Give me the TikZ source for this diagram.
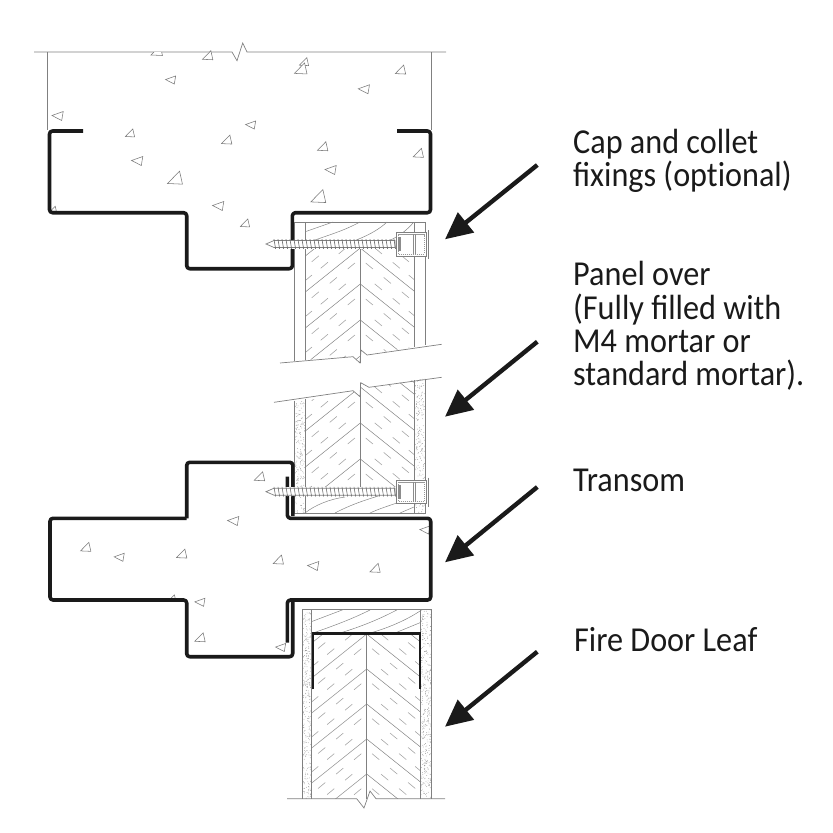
\documentclass[tikz,border=0pt]{standalone}
\usepackage{fontspec}
\setmainfont[FakeStretch=0.92]{Carlito}
\usetikzlibrary{arrows.meta}
\definecolor{ink}{HTML}{1A1A1A}
\tikzset{
  x=1pt,y=-1pt,
  thin line/.style={draw=black!50,line width=.7pt},
  grain/.style={draw=black!48,line width=.5pt},
  dashmark/.style={draw=black!35,line width=.6pt},
  steel/.style={draw=ink,line width=3.6pt,rounded corners=3pt,line join=round},
  steel flat/.style={draw=ink,line width=2.6pt,line join=miter},
  callout/.style={draw=ink,line width=4.4pt,-{Triangle[length=27pt,width=25pt]}},
  agg/.style={draw=black!52,line width=.55pt,fill=white},
  label/.style={anchor=base west,inner sep=0pt,font=\fontsize{35}{33.3}\selectfont,text=ink,align=left},
  speck/.style={fill=black!45},
}
% chevron core: xc, half width, first y at centre, spacing, last index
\newcommand{\chevron}[5]{%
  \foreach \dirn in {-1,1}{%
    \foreach \k in {-3,...,#5}{%
      \pgfmathsetmacro{\ya}{#3+\k*#4}
      \draw[grain] (#1,\ya) -- ({#1+\dirn*#2},{\ya+.8*#2});
      \foreach \dd/\off in {9/.3,27/.3,45/.3,18/.68,36/.68,52/.68}{%
        \pgfmathsetmacro{\yb}{\ya+\off*#4+.8*\dd}
        \draw[dashmark] ({#1+\dirn*(\dd-3.6)},{\yb-3}) -- ({#1+\dirn*(\dd+3.6)},{\yb+3});
      }
    }
  }
}
% stipple strip
\newcommand{\stipple}[5]{%
  \foreach \i in {1,...,#5}{%
    \pgfmathsetmacro{\px}{#1+rnd*(#2-#1)}
    \pgfmathsetmacro{\py}{#3+rnd*(#4-#3)}
    \fill[speck] (\px,\py) circle (.38);
  }
}
\newcommand{\aggA}[3]{\draw[agg] ({#1-1.15*#3},{#2-.1*#3}) -- ({#1+1.1*#3},{#2-.9*#3}) -- ({#1+.8*#3},{#2+.9*#3}) -- cycle;}
\newcommand{\aggB}[3]{\draw[agg] ({#1-1.15*#3},{#2+.8*#3}) -- ({#1+1.15*#3},{#2+.9*#3}) -- ({#1+.7*#3},{#2-1.1*#3}) -- cycle;}
% screw + cap and collet
\newcommand{\fixing}[1]{%
  \fill[white] (272,{#1-4.5}) rectangle (396,{#1+4.5});
  \draw[thin line,fill=white] (266,#1) -- (274,{#1-3.5}) -- (395,{#1-3.5}) -- (395,{#1+3.5}) -- (274,{#1+3.5}) -- cycle;
  \foreach \tx in {274,278,...,394}{%
    \draw[draw=black!58,line width=.6pt] (\tx,{#1-4.8}) -- ({\tx+1.6},{#1+4.8});
  }
  \draw[thin line,fill=white] (396,{#1-11.7}) rectangle (426,{#1+12});
  \draw[draw=black!40,line width=.6pt,dash pattern=on 1.2pt off .8pt] (398,{#1-9.5}) rectangle (424,{#1+9.8});
  \draw[draw=black!45,line width=.6pt] (413,{#1-10}) -- (413,{#1+10}) (415,{#1-10}) -- (415,{#1+10});
  \draw[thin line] (428,{#1-14}) -- (428,{#1+15});
  \fill[black!45] (398,{#1-7}) rectangle (400.5,{#1+7});
}
\begin{document}
\begin{tikzpicture}
\useasboundingbox (0,0) rectangle (833,833);
\pgfmathsetseed{11}
% ---------- upper panel
\begin{scope}
  \clip (305.3,222) -- (414.3,222) -- (414.3,346.5) -- (367,355) -- (361,350) -- (360,363) -- (353,356.7) -- (305.3,360) -- cycle;
  \begin{scope}
    \clip (300,248) rectangle (420,370);
    \chevron{360.3}{55}{248}{36}{3}
  \end{scope}
\end{scope}
\draw[thin line] (295,222) -- (426,222);
\draw[thin line] (294.7,222) -- (294.7,361.2) (305.3,222) -- (305.3,360)
  (414.3,222) -- (414.3,346.5) (425.7,222) -- (425.7,345);
\draw[thin line] (360.3,248) -- (360.3,363);
\draw[thin line] (280,363) -- (353,356.7) -- (360,363) -- (361,350) -- (367,355) -- (441.7,344.3);
\draw[grain] (305.3,231.7) -- (333,222)
  (315,240) .. controls (335,233) and (345,230) .. (360,222)
  (338,247.5) .. controls (352,241) and (372,236) .. (387,222)
  (370,247.5) .. controls (385,243) and (400,238) .. (413,223);
% ---------- lower panel
\begin{scope}
  \clip (305,401) -- (353,391) -- (360.3,397) -- (360.3,383) -- (369,388) -- (414.3,380) -- (414.3,495) -- (305,495) -- cycle;
  \chevron{360.3}{55}{351}{36}{5}
\end{scope}
\begin{scope}
  \clip (294.7,402) -- (305,400.5) -- (305,514) -- (294.7,514) -- cycle;
  \stipple{294.7}{305}{398}{514}{210}
\end{scope}
\begin{scope}
  \clip (414.3,380) -- (425.3,378.5) -- (425.3,514) -- (414.3,514) -- cycle;
  \stipple{414.3}{425.3}{376}{514}{240}
\end{scope}
\draw[thin line] (294.7,400.5) -- (294.7,514) (305,399) -- (305,514)
  (414.3,380) -- (414.3,514) (425.3,378.5) -- (425.3,514);
\draw[thin line] (360.3,383) -- (360.3,495);
\draw[thin line] (294.7,513.5) -- (425.3,513.5);
\draw[thin line] (274,402.3) -- (353,390.7) -- (360,396.7) -- (360.7,382.7) -- (369,387.3) -- (441.7,377.3);
\draw[grain] (305,513) .. controls (315,505) and (330,499) .. (345,497)
  (335,513) .. controls (350,505) and (365,500) .. (380,495.5)
  (370,513) .. controls (385,506) and (400,503) .. (414,496)
  (400,513) -- (414,507);
% ---------- door leaf
\begin{scope}
  \clip (312,634) rectangle (420.7,798.7);
  \chevron{366.7}{55}{634}{35}{5}
\end{scope}
\stipple{302.3}{311.3}{609.5}{798.5}{330}
\stipple{420.7}{431.7}{609.5}{798.5}{400}
\draw[thin line] (302.3,609.3) -- (431.7,609.3);
\draw[thin line] (302.3,609.3) -- (302.3,798.7) (311.3,609.3) -- (311.3,798.7)
  (420.7,609.3) -- (420.7,798.7) (431.7,609.3) -- (431.7,798.7);
\draw[thin line] (366.7,634) -- (366.7,799);
\draw[grain] (311.3,621.7) -- (344,609.3)
  (313,633) .. controls (330,627) and (350,620) .. (370,610)
  (340,633) .. controls (360,627) and (380,619) .. (398,609.3)
  (370,633) .. controls (385,629) and (405,621) .. (420,611)
  (395,633) -- (420,622.7);
\draw[thin line] (287,798.7) -- (356.7,798.7) -- (364,808) -- (370,791) -- (376,798.7) -- (445,798.7);
% ---------- concrete outlines
\draw[thin line] (34,52) -- (232,52) -- (237,60.7) -- (242.7,43) -- (247,52) -- (446,52);
\draw[thin line] (47.5,52) -- (47.5,130) (431.7,52) -- (431.7,130);
% ---------- aggregate
\begin{scope}
  \clip (0,52) rectangle (833,833);
  \aggB{156.7}{51}{5}
\end{scope}
\aggB{207.7}{55.7}{4.5}
\aggA{170.7}{80}{4.5}
\aggB{304}{62}{4}
\aggB{300.7}{69}{5.5}
\aggB{400.5}{70}{4.5}
\aggA{364}{89.3}{5}
\aggA{57.7}{116}{5}
\aggB{130}{133.3}{4}
\aggA{250.7}{125}{4.5}
\aggB{226.7}{140}{4.5}
\aggB{322.7}{146.7}{4.5}
\aggB{418.3}{153.3}{4.5}
\aggA{137.3}{161}{5}
\aggB{175}{178.3}{6.5}
\aggA{330.7}{170}{5}
\aggB{318.3}{196.7}{6.5}
\aggA{218.3}{206}{5}
\aggB{245}{223.3}{4}
\aggB{53.5}{209}{2.5}
\aggB{259.5}{476.7}{4.5}
\aggA{233.3}{521}{5}
\aggB{85.7}{547.3}{4.5}
\aggA{119.3}{557.3}{4.5}
\aggB{181.7}{554}{4.5}
\aggB{278.3}{560}{4.5}
\aggA{313.3}{566}{5}
\aggB{375}{568.3}{4.5}
\aggA{200}{602.3}{4.5}
\aggB{173}{597}{2}
\aggB{200}{637.7}{4.5}
\aggA{280.7}{647.5}{4.5}
\aggA{425}{530}{4.5}
% ---------- steel
\draw[steel] (83,131) -- (49.5,131) -- (49.5,212.7) -- (186.7,212.7) -- (186.7,268.7) -- (292.4,268.7) -- (292.4,212.7) -- (430.5,212.7) -- (430.5,131) -- (397,131);
\draw[steel] (186.7,518.3) -- (50,518.3) -- (50,600) -- (186.7,600) -- (186.7,656.7) -- (292.7,656.7) -- (292.7,600);
\draw[steel] (292.9,516) -- (292.9,462.3) -- (186.7,462.3) -- (186.7,518.3);
\draw[steel] (287.4,476.7) -- (287.4,518.3) -- (430.7,518.3) -- (430.7,600) -- (287.4,600) -- (287.4,642.5);
\draw[steel flat] (313,689.3) -- (313,633.7) -- (420,633.7) -- (420,689.3);
% ---------- fixings
\fixing{244}
\fixing{491.7}
% ---------- labels and callouts
\node[label] (cap) at (573,186.7) {Cap and collet\\fixings (opt\kern0pt ional)};
\node[label] (panel) at (573,385.7) {Panel over\\(Fully filled with\\M4 mortar or\\standard mortar).};
\node[label] (transom) at (573,491.7) {Transom};
\node[label] (leaf) at (574,651.7) {Fire Door Leaf};
\coordinate (capFrom) at (537.3,165);
\coordinate (capTo) at (445,239.3);
\coordinate (panelFrom) at (537.3,341.7);
\coordinate (panelTo) at (445,416.7);
\coordinate (transomFrom) at (537.3,487);
\coordinate (transomTo) at (445,562.3);
\coordinate (leafFrom) at (537.3,651.7);
\coordinate (leafTo) at (445,726.7);
\draw[callout] (capFrom) -- (capTo);
\draw[callout] (panelFrom) -- (panelTo);
\draw[callout] (transomFrom) -- (transomTo);
\draw[callout] (leafFrom) -- (leafTo);
\end{tikzpicture}
\end{document}
